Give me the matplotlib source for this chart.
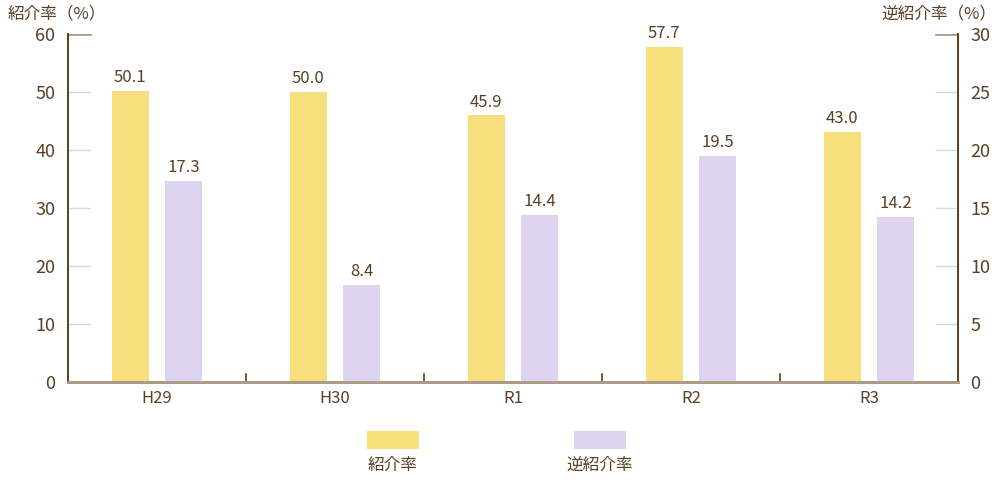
import matplotlib
matplotlib.use("Agg")
import matplotlib.pyplot as plt
import numpy as np
from matplotlib.patches import Rectangle

plt.rcParams["font.family"] = ["Noto Sans CJK JP", "DejaVu Sans"]

categories = ["H29", "H30", "R1", "R2", "R3"]
referral_rate = [50.1, 50.0, 45.9, 57.7, 43.0]
reverse_rate = [17.3, 8.4, 14.4, 19.5, 14.2]
left_ticks = [0, 10, 20, 30, 40, 50, 60]
right_ticks = [0, 5, 10, 15, 20, 25, 30]

TEXT = "#5a3f25"
DARK = "#5c3c1a"
YELLOW = "#f7df7e"
PURPLE = "#ded4f2"

fig = plt.figure(figsize=(10, 4.8), dpi=100)
ax = fig.add_axes([0.068, 0.204, 0.890, 0.726])
ax2 = ax.twinx()

x = np.arange(len(categories))
w = 0.208
off = 0.15

ax.bar(x - off, referral_rate, width=w, color=YELLOW, zorder=2)
ax2.bar(x + off, reverse_rate, width=w, color=PURPLE, zorder=2)

ax.set_xlim(-0.5, len(categories) - 0.5)
ax.set_ylim(0, 60)
ax2.set_ylim(0, 30)

for v, xi in zip(referral_rate, x):
    ax.annotate(f"{v:.1f}", (xi - off, v), xytext=(0, 3.5), textcoords="offset points",
                ha="center", va="bottom", fontsize=12, color=TEXT)
for v, xi in zip(reverse_rate, x):
    ax2.annotate(f"{v:.1f}", (xi + off, v), xytext=(0, 3.5), textcoords="offset points",
                 ha="center", va="bottom", fontsize=12, color=TEXT)

# short inner grid marks at both axes
for t in left_ticks[1:]:
    c, lw = ("#ab9b89", 2.0) if t == 60 else ("#d9d9d9", 1.0)
    ax.axhline(t, xmin=0, xmax=0.025, color=c, lw=lw, zorder=1)
    ax.axhline(t, xmin=0.975, xmax=1, color=c, lw=lw, zorder=1)

ax.set_yticks(left_ticks)
ax2.set_yticks(right_ticks)
ax.set_xticks(x)
ax.set_xticklabels(categories)
ax.tick_params(axis="y", length=0, pad=9, labelsize=13, labelcolor=TEXT)
ax2.tick_params(axis="y", length=0, pad=9, labelsize=13, labelcolor=TEXT)
ax.tick_params(axis="x", length=0, pad=6, labelsize=12, labelcolor=TEXT)

# category separators on the baseline
for s in x[1:] - 0.5:
    ax.plot([s, s], [0, 1.4], color=DARK, lw=1.2, zorder=3, clip_on=False)

for a in (ax, ax2):
    a.spines["top"].set_visible(False)
    a.spines["left"].set_color(DARK)
    a.spines["right"].set_color(DARK)
    a.spines["left"].set_linewidth(1.2)
    a.spines["right"].set_linewidth(1.2)
    a.spines["bottom"].set_color("#ab9b89")
    a.spines["bottom"].set_linewidth(2)
    a.spines["bottom"].set_zorder(4)

fig.text(0.008, 0.972, "紹介率（%）", ha="left", va="center", fontsize=12, color=TEXT)
fig.text(0.996, 0.972, "逆紹介率（%）", ha="right", va="center", fontsize=12, color=TEXT)

# legend
legend_items = [("紹介率", YELLOW, 0.367), ("逆紹介率", PURPLE, 0.574)]
for label, color, lx in legend_items:
    fig.add_artist(Rectangle((lx, 0.065), 0.052, 0.038, transform=fig.transFigure,
                             facecolor=color, edgecolor="none"))
    fig.text(lx + 0.026, 0.031, label, ha="center", va="center", fontsize=12, color=TEXT)

fig.savefig("out.png", dpi=100)
